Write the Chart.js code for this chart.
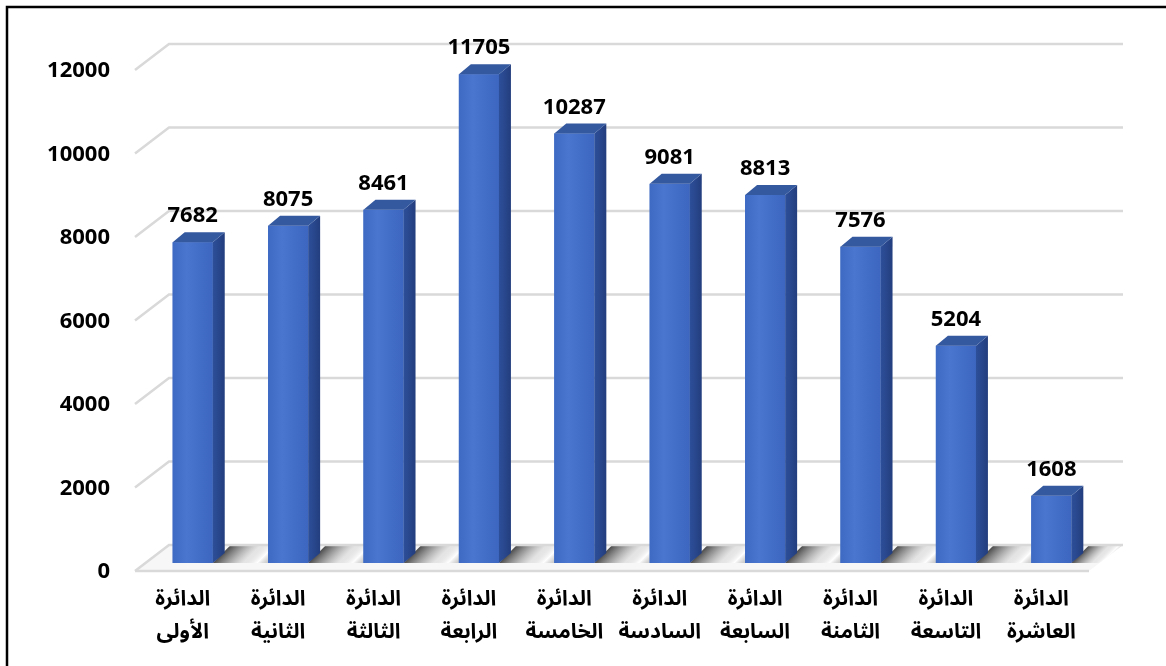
<!DOCTYPE html>
<html>
<head>
<meta charset="utf-8">
<script src="https://cdn.jsdelivr.net/npm/chart.js@4.4.1/dist/chart.umd.min.js"></script>
<style>
  body { margin: 0; background: #fff; }
  #wrap { width: 1166px; height: 666px; position: relative; }
</style>
</head>
<body>
<div id="wrap"><canvas id="myChart"></canvas></div>
<script>
// data
var districts = [
    ['الدائرة', 'الأولى'],
    ['الدائرة', 'الثانية'],
    ['الدائرة', 'الثالثة'],
    ['الدائرة', 'الرابعة'],
    ['الدائرة', 'الخامسة'],
    ['الدائرة', 'السادسة'],
    ['الدائرة', 'السابعة'],
    ['الدائرة', 'الثامنة'],
    ['الدائرة', 'التاسعة'],
    ['الدائرة', 'العاشرة']
];
var counts = [7682, 8075, 8461, 11705, 10287, 9081, 8813, 7576, 5204, 1608];
var yTicks = [0, 2000, 4000, 6000, 8000, 10000, 12000];

var NUM_FONT = "'Noto Sans', 'DejaVu Sans', sans-serif";
var AR_FONT = "'Noto Sans Arabic', 'DejaVu Sans', sans-serif";

// depth offsets of the fake 3d look
var FRONT = { dx: -10, dy: 8 };
var BACK = { dx: 24, dy: -18 };
var BAR_D = { dx: 12, dy: -10 };

// border + back wall grid + floor
var wallPlugin = {
    id: 'wall',
    beforeDraw(chart) {
        let c = chart.ctx;
        c.save();
        c.strokeStyle = '#000';
        c.lineWidth = 2.5;
        c.beginPath();
        c.moveTo(7, 666);
        c.lineTo(7, 7);
        c.lineTo(1166, 7);
        c.stroke();
        c.restore();
    },
    beforeDatasetsDraw(chart) {
        let c = chart.ctx;
        let a = chart.chartArea;
        let ys = chart.scales.y;
        c.save();

        // floor
        let y0 = ys.getPixelForValue(0);
        let yb = y0 + BACK.dy;
        c.beginPath();
        c.moveTo(a.left + FRONT.dx, y0 + FRONT.dy);
        c.lineTo(a.left + BACK.dx, yb);
        c.lineTo(a.right + BACK.dx, yb);
        c.lineTo(a.right + FRONT.dx, y0 + FRONT.dy);
        c.closePath();
        c.fillStyle = '#f7f7f7';
        c.fill();

        // shadows between the bars, on the back part of the floor
        c.save();
        c.clip();
        let meta = chart.getDatasetMeta(0);
        let sk = y0 - yb;
        meta.data.forEach((bar, i) => {
            let r = bar.x + bar.width / 2;
            let next = meta.data[i + 1];
            let l2 = next ? next.x - next.width / 2 : a.right + 10;
            let h = (l2 - r) / 2;
            // bands run along the floor's slant
            let g = c.createLinearGradient(r, y0, r + h, y0 + h);
            g.addColorStop(0, 'rgba(45,45,45,0.85)');
            g.addColorStop(0.25, 'rgba(100,100,100,0.6)');
            g.addColorStop(0.55, 'rgba(200,200,200,0.4)');
            g.addColorStop(0.8, 'rgba(255,255,255,0.9)');
            g.addColorStop(1, 'rgba(170,170,170,0.6)');
            c.fillStyle = g;
            c.beginPath();
            c.moveTo(r, y0);
            c.lineTo(r + sk, yb);
            c.lineTo(l2 + sk, yb);
            c.lineTo(l2, y0);
            c.closePath();
            c.fill();
        });
        c.restore();

        // grid lines on the back wall
        c.strokeStyle = '#d9d9d9';
        c.lineWidth = 2.5;
        yTicks.forEach((v) => {
            let y = ys.getPixelForValue(v);
            c.beginPath();
            c.moveTo(a.left + FRONT.dx, y + FRONT.dy);
            c.lineTo(a.left + BACK.dx, y + BACK.dy);
            c.lineTo(a.right + BACK.dx, y + BACK.dy);
            c.stroke();
        });
        c.beginPath();
        c.moveTo(a.left + FRONT.dx, y0 + FRONT.dy);
        c.lineTo(a.right + FRONT.dx, y0 + FRONT.dy);
        c.stroke();
        c.restore();
    }
};

// side, top and shaded front of every bar, plus value labels
var boxPlugin = {
    id: 'box',
    afterDatasetsDraw(chart) {
        let c = chart.ctx;
        let meta = chart.getDatasetMeta(0);
        c.save();
        meta.data.forEach((bar, i) => {
            let l = bar.x - bar.width / 2;
            let r = bar.x + bar.width / 2;
            let t = bar.y;
            let b = bar.base;

            let gf = c.createLinearGradient(l, 0, r, 0);
            gf.addColorStop(0, '#3e6ac4');
            gf.addColorStop(0.35, '#4a76cf');
            gf.addColorStop(1, '#3c66bf');
            c.fillStyle = gf;
            c.fillRect(l, t, r - l, b - t);

            // side
            let gs = c.createLinearGradient(r, 0, r + BAR_D.dx, 0);
            gs.addColorStop(0, '#2d4f9a');
            gs.addColorStop(1, '#233e7e');
            c.fillStyle = gs;
            c.beginPath();
            c.moveTo(r, t);
            c.lineTo(r + BAR_D.dx, t + BAR_D.dy);
            c.lineTo(r + BAR_D.dx, b + BAR_D.dy);
            c.lineTo(r, b);
            c.closePath();
            c.fill();

            // top
            c.fillStyle = '#34599f';
            c.beginPath();
            c.moveTo(l, t);
            c.lineTo(l + BAR_D.dx, t + BAR_D.dy);
            c.lineTo(r + BAR_D.dx, t + BAR_D.dy);
            c.lineTo(r, t);
            c.closePath();
            c.fill();

            c.fillStyle = '#000';
            c.font = 'bold 22px ' + NUM_FONT;
            c.textAlign = 'center';
            c.textBaseline = 'alphabetic';
            c.fillText(counts[i], bar.x, t - 20);
        });
        c.restore();
    }
};

new Chart('myChart', {
    type: 'bar',
    data: {
        labels: districts,
        datasets: [{
            data: counts,
            backgroundColor: '#4472c4',
            categoryPercentage: 1,
            barPercentage: 0.42
        }]
    },
    options: {
        responsive: true,
        maintainAspectRatio: false,
        animation: false,
        layout: { padding: { left: 0, right: 67, top: 62, bottom: 0 } },
        plugins: {
            legend: { display: false },
            tooltip: { enabled: false }
        },
        scales: {
            x: {
                grid: { display: false, drawTicks: false },
                border: { display: false },
                ticks: {
                    color: '#000',
                    font: { family: AR_FONT, size: 21, weight: 'bold', lineHeight: '33px' },
                    padding: 22,
                    labelOffset: -10,
                    maxRotation: 0,
                    autoSkip: false
                },
                afterFit: (s) => { s.height = 103; }
            },
            y: {
                min: 0,
                max: 12000,
                grid: { display: false, drawTicks: false },
                border: { display: false },
                ticks: {
                    stepSize: 2000,
                    color: '#000',
                    font: { family: NUM_FONT, size: 22, weight: 'bold' },
                    padding: 35,
                    labelOffset: 9,
                    callback: (v) => String(v)
                },
                afterFit: (s) => { s.width = 145; }
            }
        }
    },
    plugins: [wallPlugin, boxPlugin]
});
</script>
</body>
</html>
